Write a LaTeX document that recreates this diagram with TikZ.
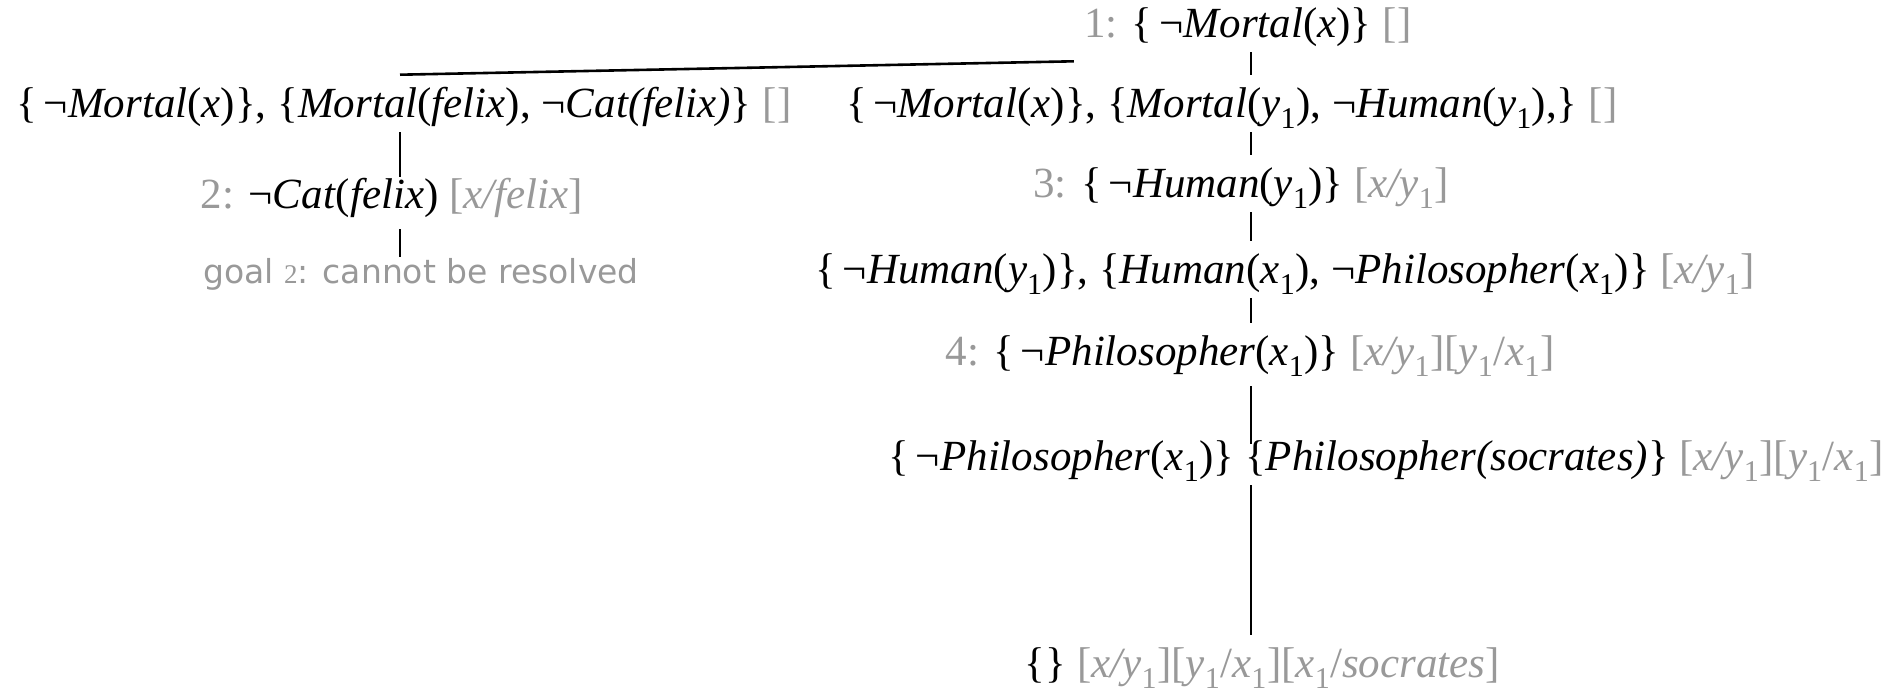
\documentclass[tikz,border=0pt]{standalone}
\usepackage{fontspec}
\setmainfont{Liberation Serif}
\newfontfamily\goalfont{DejaVu Sans}
\usepackage{xcolor}
\usepackage{tikz}
\usetikzlibrary{calc}
\definecolor{subgray}{RGB}{153,153,153}
\newcommand{\gr}[1]{\textcolor{subgray}{#1}}
\newcommand{\one}{\textsubscript{1}}
\newcommand{\lneg}{\{\kern7pt¬}
\tikzstyle{clause}=[anchor=base, inner xsep=4pt, inner ysep=3pt,
text height=38pt, text depth=11pt, font=\fontsize{43}{50}\selectfont]
\tikzstyle{goalnode}=[clause, text height=22pt, text depth=8pt, text=subgray,
font=\goalfont\fontsize{33}{40}\selectfont]
\tikzstyle{res}=[line width=2.6pt]

\begin{document}
\begin{tikzpicture}[x=1pt,y=-1pt,res]
\useasboundingbox (0,0) rectangle (1898,691);
\coordinate (colL) at (400,0);
\coordinate (colR) at (1251,0);
\node[clause] (n1) at (1248,37) {\gr{1:} \lneg\textit{Mortal}(\textit{x})\} \gr{[\kern1pt]}};
\node[clause] (nA) at (404,117) {\lneg\textit{Mortal}(\textit{x})\}, \{\textit{Mortal}(\textit{felix}), ¬\textit{Cat(felix)}\} \gr{[\kern1pt]}};
\node[clause] (nB) at (1232,117) {\lneg\textit{Mortal}(\textit{x})\}, \{\textit{Mortal}(\textit{y}\one), ¬\textit{Human}(\textit{y}\one),\} \gr{[\kern1pt]}};
\node[clause] (n2) at (392,208) {\gr{2:} ¬\textit{Cat}(\textit{felix}) \gr{[\textit{x/felix}]}};
\node[goalnode] (goal) at (421,283) {goal {\rmfamily\fontsize{27}{32}\selectfont 2}: cannot be resolved};
\node[clause] (n3) at (1241,197) {\gr{3:} \lneg\textit{Human}(\textit{y}\one)\} \gr{[\textit{x/y}\one]}};
\node[clause] (nH) at (1285,283) {\lneg\textit{Human}(\textit{y}\one)\}, \{\textit{Human}(\textit{x}\one), ¬\textit{Philosopher}(\textit{x}\one)\} \gr{[\textit{x/y}\one]}};
\node[clause] (n4) at (1250,365) {\gr{4:} \lneg\textit{Philosopher}(\textit{x}\one)\} \gr{[\textit{x/y}\one][\textit{y}\one/\textit{x}\one]}};
\node[clause] (nP) at (1386,470) {\lneg\textit{Philosopher}(\textit{x}\one)\} \{\textit{Philosopher(socrates)}\} \gr{[\textit{x/y}\one][\textit{y}\one/\textit{x}\one]}};
\node[clause] (nE) at (1262,677) {\{\kern1pt\} \gr{[\textit{x/y}\one][\textit{y}\one/\textit{x}\one][\textit{x}\one/\textit{socrates}]}};
\draw ($(n1.south west)+(-5,9)$) -- (nA.north -| colL);
\draw (n1.south -| colR) -- (nB.north -| colR);
\draw [shorten >=-11pt] (nA.south -| colL) -- (n2.north -| colL);
\draw [shorten <=6pt] (n2.south -| colL) -- (goal.north -| colL);
\draw (nB.south -| colR) -- (n3.north -| colR);
\draw (n3.south -| colR) -- (nH.north -| colR);
\draw (nH.south -| colR) -- (n4.north -| colR);
\draw [shorten <=6pt, shorten >=-16pt] (n4.south -| colR) -- (nP.north -| colR);
\draw (nP.south -| colR) -- (nE.north -| colR);
\end{tikzpicture}
\end{document}
